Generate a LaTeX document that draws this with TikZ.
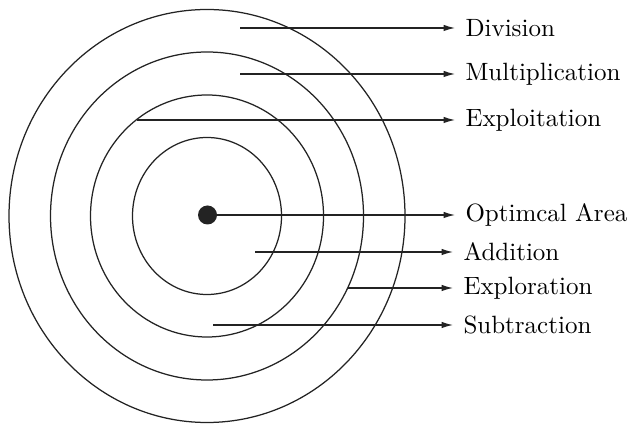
\documentclass[tikz,border=0pt]{standalone}
\usepackage{amsmath,amssymb}
\usepackage{xcolor}
\usepackage{tikz}
\usetikzlibrary{arrows.meta,positioning,calc}
\definecolor{trait}{RGB}{35,35,35}
\tikzset{
  anneau/.style={trait,line width=0.5pt},
  fleche/.style={trait,line width=0.45pt,-{Latex[length=4.6pt,width=2.6pt]}},
  etiquette/.style={anchor=west,inner sep=4pt,font=\normalsize}
}
\begin{document}
\begin{tikzpicture}[x=0.4pt,y=0.4pt]
  \useasboundingbox (0,0) rectangle (630,425);
  % anneaux concentriques
  \coordinate (centre) at (207,209);
  \draw[anneau] (centre) ellipse [x radius=74.5,y radius=78.5];
  \draw[anneau] (centre) ellipse [x radius=116.5,y radius=121];
  \draw[anneau] (centre) ellipse [x radius=156.5,y radius=164];
  \draw[anneau] (centre) ellipse [x radius=198,y radius=206.5];
  % point optimal
  \node[circle,fill=trait,inner sep=0pt,minimum size=7.6pt] (optimum) at (207.5,210) {};
  % etiquettes
  \node[etiquette] (division) at (455,397) {Division};
  \node[etiquette] (multiplication) at (455,351) {Multiplication};
  \node[etiquette] (exploitation) at (455,305) {Exploitation};
  \node[etiquette] (optimcal) at (455,210) {Optimcal Area};
  \node[etiquette] (addition) at (453,173) {Addition};
  \node[etiquette] (exploration) at (453,137) {Exploration};
  \node[etiquette] (subtraction) at (453,100) {Subtraction};
  % departs des fleches
  \coordinate (divD) at (240,397);
  \coordinate (mulD) at (240,351);
  \coordinate (explD) at (137,305);
  \coordinate (addD) at (255,173);
  \coordinate (explorD) at (348,137);
  \coordinate (subD) at (213,100);
  \draw[fleche] (divD) -- (division.west);
  \draw[fleche] (mulD) -- (multiplication.west);
  \draw[fleche] (explD) -- (exploitation.west);
  \draw[fleche] (optimum.center) -- (optimcal.west);
  \draw[fleche] (addD) -- (addition.west);
  \draw[fleche] (explorD) -- (exploration.west);
  \draw[fleche] (subD) -- (subtraction.west);
\end{tikzpicture}
\end{document}
